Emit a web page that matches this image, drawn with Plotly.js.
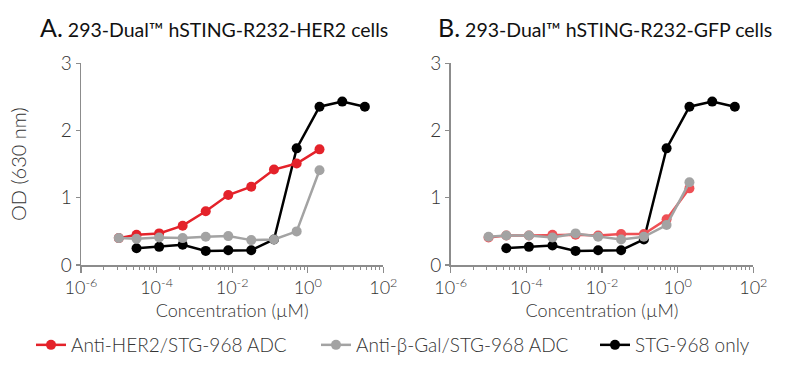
<!DOCTYPE html>
<html><head><meta charset="utf-8">
<script src="https://cdn.plot.ly/plotly-3.0.1.min.js"></script>
<style>html,body{margin:0;padding:0;background:#fff}</style>
</head><body>
<div id="chart" style="width:800px;height:368px"></div>
<script>
const seriesNames = ['Anti-HER2/STG-968 ADC', 'Anti-\u03B2-Gal/STG-968 ADC', 'STG-968 only'];
const panelTitles = ['293-Dual\u2122 hSTING-R232-HER2 cells', '293-Dual\u2122 hSTING-R232-GFP cells'];
const panelLetters = ['A.', 'B.'];
// concentrations (µM)
const adcConc = [1.0e-5, 2.95e-5, 1.17e-4, 4.9e-4, 2.0e-3, 7.9e-3, 3.2e-2, 0.128, 0.51, 2.05];
const stgConc = [2.95e-5, 1.17e-4, 4.9e-4, 2.0e-3, 7.9e-3, 3.2e-2, 0.128, 0.51, 2.05, 8.2, 32.5];
// Panel A
const her2A = [0.40, 0.45, 0.47, 0.585, 0.80, 1.04, 1.165, 1.42, 1.51, 1.72];
const bgalA = [0.40, 0.39, 0.41, 0.40, 0.42, 0.43, 0.37, 0.38, 0.50, 1.41];
const stgA  = [0.25, 0.27, 0.30, 0.21, 0.22, 0.22, 0.38, 1.735, 2.355, 2.43, 2.355];
// Panel B
const her2B = [0.41, 0.44, 0.44, 0.45, 0.45, 0.44, 0.46, 0.46, 0.68, 1.14];
const bgalB = [0.42, 0.44, 0.44, 0.41, 0.47, 0.42, 0.38, 0.42, 0.595, 1.23];
const stgB  = [0.25, 0.27, 0.29, 0.21, 0.22, 0.22, 0.38, 1.735, 2.355, 2.43, 2.355];
// axis ticks
const xTickVals = [1e-6, 1e-4, 1e-2, 1, 100];
const xTickText = ['10<sup>-6</sup>', '10<sup>-4</sup>', '10<sup>-2</sup>', '10<sup>0</sup>', '10<sup>2</sup>'];
const yTickVals = [0, 1, 2, 3];
const yTickText = ['0', '1', '2', '3'];

const RED = '#e4222a', RED_B = '#ee5055', GRAY = '#a3a3a3', BLACK = '#000000';
const FONT = 'Lato, "Open Sans", sans-serif';
const TXT = '#333333';

// minor ticks: GraphPad-style, k^2 within every two-decade interval
const minorVals = [];
[1e-6, 1e-4, 1e-2, 1].forEach(b => { for (let k = 2; k <= 9; k++) minorVals.push(b * k * k); });

function tr(x, y, name, color, xa, ya, showleg, leg) {
  return {x: x, y: y, name: name, type: 'scatter', mode: 'lines+markers',
    xaxis: xa, yaxis: ya, showlegend: showleg, legend: leg,
    line: {color: color, width: 2.5}, marker: {color: color, size: 10},
    cliponaxis: false};
}
const data = [
  tr(stgConc, stgA, seriesNames[2], BLACK, 'x', 'y', true, 'legend3'),
  tr(adcConc, her2A, seriesNames[0], RED, 'x', 'y', true, 'legend'),
  tr(adcConc, bgalA, seriesNames[1], GRAY, 'x', 'y', true, 'legend2'),
  tr(stgConc, stgB, seriesNames[2], BLACK, 'x2', 'y2', false, 'legend3'),
  tr(adcConc, her2B, seriesNames[0], RED_B, 'x2', 'y2', false, 'legend'),
  tr(adcConc, bgalB, seriesNames[1], GRAY, 'x2', 'y2', false, 'legend2')
];

function xax(dom, anchor) {
  return {type: 'log', range: [-6, 2], domain: dom, anchor: anchor,
    showline: true, linecolor: '#8c8c8c', linewidth: 1.5, showgrid: false, zeroline: false,
    ticks: 'outside', ticklen: 6, tickwidth: 1.3, tickcolor: '#8c8c8c',
    tickmode: 'array', tickvals: xTickVals, ticktext: xTickText,
    tickfont: {family: FONT, size: 18, color: TXT, weight: 300},
    minor: {tickmode: 'array', tickvals: minorVals, ticks: 'outside', ticklen: 3, tickwidth: 1, tickcolor: '#8c8c8c', showgrid: false},
    title: {text: 'Concentration (\u00B5M)', font: {family: FONT, size: 18, color: TXT, weight: 300}, standoff: 7}};
}
function yax(dom, anchor) {
  return {range: [0, 3], domain: dom, anchor: anchor,
    showline: true, linecolor: '#8c8c8c', linewidth: 1.5, showgrid: false, zeroline: false,
    ticks: 'outside', ticklen: 4, tickwidth: 1.3, tickcolor: '#8c8c8c',
    tickmode: 'array', tickvals: yTickVals, ticktext: yTickText,
    tickfont: {family: FONT, size: 19, color: TXT, weight: 300}};
}
function leg(xpx) {
  return {orientation: 'h', x: xpx / 800, xanchor: 'left', y: (368 - 345) / 368, yanchor: 'middle',
    font: {family: FONT, size: 19, color: TXT, weight: 300}, bgcolor: 'rgba(0,0,0,0)'};
}

const yDom = [(368 - 265) / 368, (368 - 63.3) / 368];
const layout = {
  width: 800, height: 368,
  margin: {l: 0, r: 0, t: 0, b: 0},
  paper_bgcolor: '#fff', plot_bgcolor: '#fff',
  font: {family: FONT, color: TXT},
  showlegend: true,
  xaxis: xax([81 / 800, 383.3 / 800], 'y'),
  yaxis: yax(yDom, 'x'),
  xaxis2: xax([450.7 / 800, 753.3 / 800], 'y2'),
  yaxis2: yax(yDom, 'x2'),
  legend: leg(31),
  legend2: leg(316),
  legend3: leg(595),
  annotations: [
    {xref: 'paper', yref: 'paper', x: 38 / 800, y: (368 - 27) / 368, xanchor: 'left', yanchor: 'middle', showarrow: false,
      text: '<span style="font-size:25px">' + panelLetters[0] + '</span> ' + panelTitles[0],
      font: {family: FONT, size: 19.5, color: '#111', weight: 400}},
    {xref: 'paper', yref: 'paper', x: 436 / 800, y: (368 - 27) / 368, xanchor: 'left', yanchor: 'middle', showarrow: false,
      text: '<span style="font-size:25px">' + panelLetters[1] + '</span> ' + panelTitles[1],
      font: {family: FONT, size: 19.5, color: '#111', weight: 400}},
    {xref: 'paper', yref: 'paper', x: 18 / 800, y: (368 - 164) / 368, xanchor: 'center', yanchor: 'middle', showarrow: false,
      textangle: -90, text: 'OD (630 nm)', font: {family: FONT, size: 20, color: TXT, weight: 300}}
  ]
};
Plotly.newPlot('chart', data, layout, {displayModeBar: false, staticPlot: true});
</script>
</body></html>
